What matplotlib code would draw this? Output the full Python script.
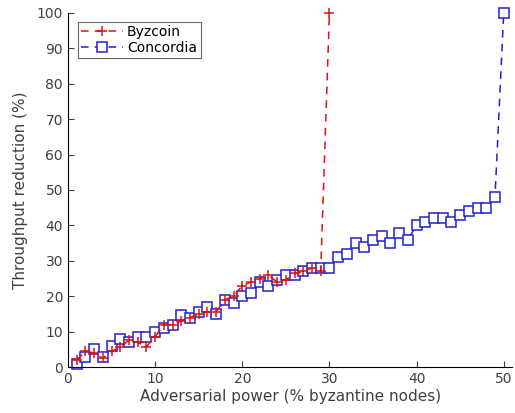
import numpy as np
import matplotlib
matplotlib.use('Agg')
import matplotlib.pyplot as plt

# Data
byz_x = list(range(1, 31))
byz_y = [2, 4.5, 4, 2.5, 4.5, 5.6, 7.6, 7, 5.8, 8.6,
         12, 12, 13, 14, 15, 15.6, 15.6, 19, 20, 23,
         24, 25, 26, 24, 24.6, 26.5, 27, 28, 27, 100]

con_x = list(range(1, 51))
con_y = [1, 3, 5, 3, 6, 8, 7, 8.6, 8.6, 10,
         11, 12, 14.7, 14, 15.6, 17, 15, 19, 18, 20,
         21, 24, 23, 24.6, 26, 26, 27, 28, 28, 28,
         31, 32, 35, 34, 36, 37, 35, 38, 36, 40,
         41, 42, 42, 41, 43, 44, 45, 45, 48, 100]

grey = '#404040'
plt.rcParams['font.family'] = 'DejaVu Sans'

fig = plt.figure(figsize=(5.15, 4.13), dpi=100)
ax = fig.add_axes([0.132, 0.111, 0.863, 0.858])

ax.plot(byz_x, byz_y, color='#e01010', linestyle=(0, (5, 4)), linewidth=1.1,
        marker='+', markersize=7.5, markeredgewidth=1.1, label='Byzcoin',
        zorder=3, clip_on=False)
ax.plot(con_x, con_y, color='#2020d0', linestyle=(0, (5, 4)), linewidth=1.1,
        marker='s', markersize=6.5, markerfacecolor='white', markeredgewidth=1.1,
        label='Concordia', zorder=2, clip_on=False)

ax.set_xlim(0, 51)
ax.set_ylim(0, 100)
ax.set_xticks(np.arange(0, 51, 10))
ax.set_yticks(np.arange(0, 101, 10))
ax.spines['top'].set_visible(False)
ax.spines['right'].set_visible(False)
ax.tick_params(direction='in', length=4, colors=grey, labelsize=10, labelcolor=grey)

ax.set_xlabel('Adversarial power (% byzantine nodes)', color=grey, fontsize=11, labelpad=2)
ax.set_ylabel('Throughput reduction (%)', color=grey, fontsize=11, labelpad=6)

leg = ax.legend(loc='upper left', bbox_to_anchor=(0.022, 0.975), fontsize=10, frameon=True,
                fancybox=False, edgecolor='#404040', handlelength=3.0,
                borderpad=0.25, labelspacing=0.1, handletextpad=0.3, borderaxespad=0.0)
leg.get_frame().set_linewidth(0.8)

plt.savefig('out.png', dpi=100)
